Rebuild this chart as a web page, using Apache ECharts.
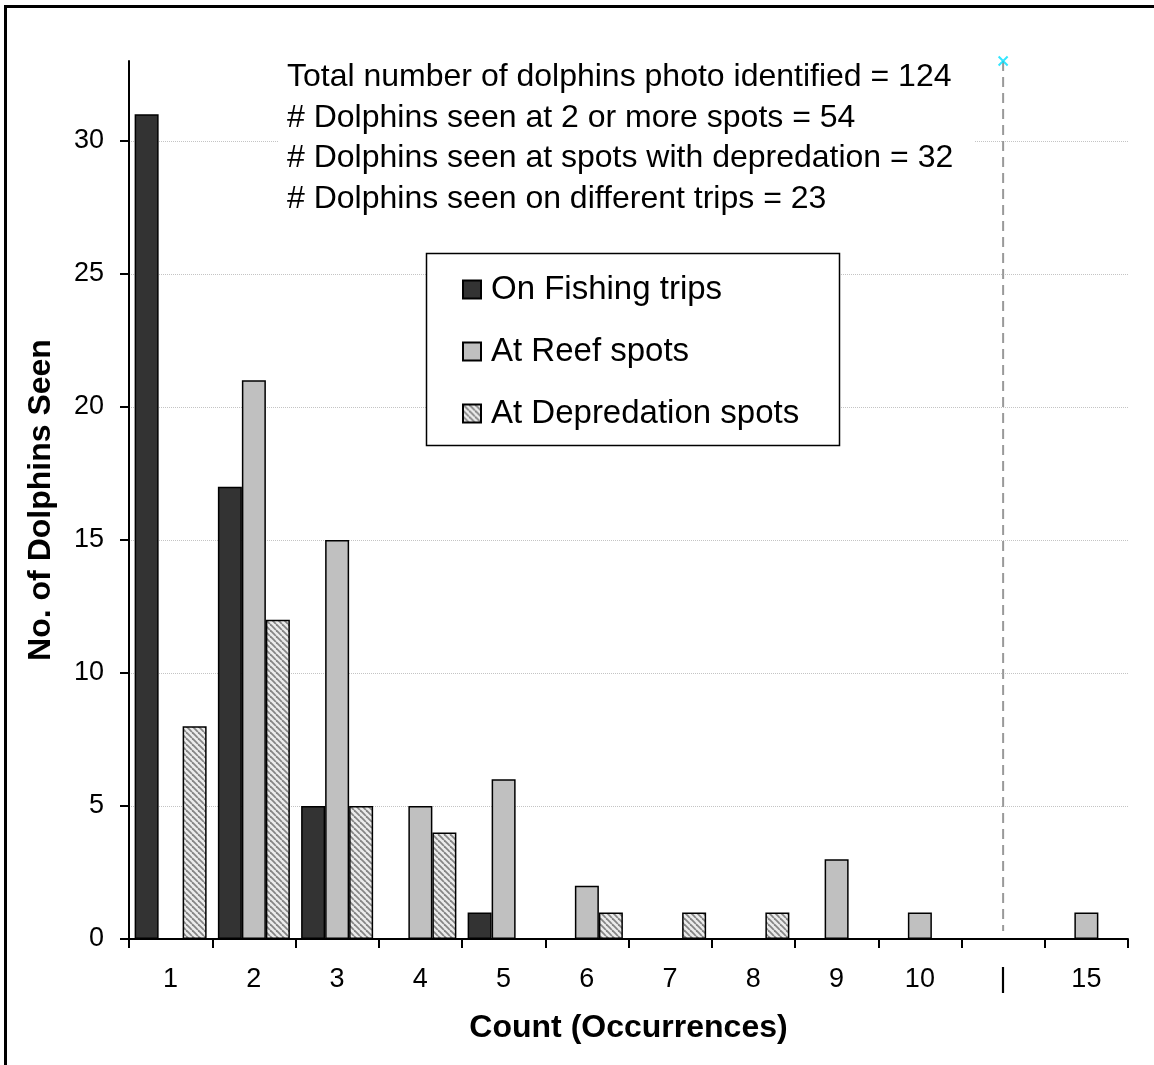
<!DOCTYPE html>
<html>
<head>
<meta charset="utf-8">
<script src="https://cdn.jsdelivr.net/npm/echarts@6/dist/echarts.min.js"></script>
<style>
  html, body { margin: 0; padding: 0; background: #fff; }
  #main { width: 1154px; height: 1065px; }
</style>
</head>
<body>
<div id="main"></div>
<script>
// categories on the x axis ('|' marks the axis break)
var categories = ['1', '2', '3', '4', '5', '6', '7', '8', '9', '10', '|', '15'];
var fishingTrips = [31, 17, 5, 0, 1, 0, 0, 0, 0, 0, 0, 0];
var reefSpots = [0, 21, 15, 5, 6, 2, 0, 0, 3, 1, 0, 1];
var depredationSpots = [8, 12, 5, 4, 0, 1, 1, 1, 0, 0, 0, 0];
var yTicks = [0, 5, 10, 15, 20, 25, 30];
var breakLine = [['|', 33], ['|', 0.3]];
var breakMarker = [['|', 33]];
var notes = [
  'Total number of dolphins photo identified = 124',
  '# Dolphins seen at 2 or more spots = 54',
  '# Dolphins seen at spots with depredation = 32',
  '# Dolphins seen on different trips = 23'
];

var FONT = '"Liberation Sans", Arial, sans-serif';

// hatch pattern for the depredation bars
function hatch() {
  var s = 6;
  var c = document.createElement('canvas');
  c.width = s; c.height = s;
  var g = c.getContext('2d');
  g.fillStyle = '#ececec';
  g.fillRect(0, 0, s, s);
  g.strokeStyle = '#858585';
  g.lineWidth = 1.8;
  [-s, 0, s].forEach(function (x0) {
    g.beginPath();
    g.moveTo(x0, 0);
    g.lineTo(x0 + s, s);
    g.stroke();
  });
  return { image: c, repeat: 'repeat' };
}

var chart = echarts.init(document.getElementById('main'));
var barBorder = { borderColor: '#000', borderWidth: 1.5 };

var option = {
  animation: false,
  backgroundColor: '#fff',
  textStyle: { fontFamily: FONT, color: '#000' },
  grid: { left: 129, right: 26, top: 61, bottom: 126 },
  xAxis: {
    type: 'category',
    data: categories,
    name: 'Count (Occurrences)',
    nameLocation: 'middle',
    nameGap: 73,
    nameTextStyle: { fontSize: 32, fontWeight: 'bold', color: '#000', fontFamily: FONT },
    axisLine: { lineStyle: { color: '#000', width: 2 } },
    axisTick: { show: true, length: 9, lineStyle: { color: '#000', width: 2 } },
    axisLabel: { fontSize: 27, color: '#000', margin: 27, fontFamily: FONT },
    splitLine: { show: false }
  },
  yAxis: {
    type: 'value',
    min: 0,
    max: 33,
    name: 'No. of Dolphins Seen',
    nameLocation: 'middle',
    nameGap: 72,
    nameTextStyle: { fontSize: 32, fontWeight: 'bold', color: '#000', fontFamily: FONT },
    axisLine: { show: true, lineStyle: { color: '#000', width: 2 } },
    axisTick: { show: true, length: 9, customValues: yTicks, lineStyle: { color: '#000', width: 2 } },
    axisLabel: { fontSize: 27, color: '#000', margin: 25, customValues: yTicks, fontFamily: FONT },
    splitLine: { show: true, lineStyle: { color: '#c4c4c4', type: 'dotted', width: 1 } }
  },
  legend: {
    data: ['On Fishing trips', 'At Reef spots', 'At Depredation spots'],
    orient: 'vertical',
    left: 462,
    top: 273,
    padding: 0,
    itemGap: 29,
    itemWidth: 18,
    itemHeight: 18,
    icon: 'rect',
    z: 10,
    textStyle: { fontSize: 33, color: '#000', padding: [0, 0, 0, 5], fontFamily: FONT }
  },
  graphic: [
    {
      type: 'rect', z: 5,
      shape: { x: 426.5, y: 253.5, width: 413, height: 192 },
      style: { fill: '#fff', stroke: '#000', lineWidth: 1.5 }
    },
    {
      type: 'rect', z: 5,
      shape: { x: 279, y: 56, width: 695, height: 164 },
      style: { fill: '#fff' }
    },
    {
      type: 'text', z: 6,
      x: 287, y: 57,
      style: {
        text: notes.join('\n'),
        font: '32px ' + FONT,
        fill: '#000',
        lineHeight: 40.6,
        verticalAlign: 'top'
      }
    },
    {
      type: 'rect', z: 20,
      shape: { x: 5.5, y: 6.5, width: 1300, height: 1300 },
      style: { fill: 'none', stroke: '#000', lineWidth: 3 }
    }
  ],
  series: [
    {
      name: 'On Fishing trips', type: 'bar', data: fishingTrips,
      barWidth: 24, barGap: '0%',
      itemStyle: Object.assign({ color: '#333333' }, barBorder)
    },
    {
      name: 'At Reef spots', type: 'bar', data: reefSpots,
      barWidth: 24, barGap: '0%',
      itemStyle: Object.assign({ color: '#c0c0c0' }, barBorder)
    },
    {
      name: 'At Depredation spots', type: 'bar', data: depredationSpots,
      barWidth: 24, barGap: '0%',
      itemStyle: Object.assign({ color: hatch() }, barBorder)
    },
    {
      name: 'break', type: 'line', data: breakLine,
      symbol: 'none', silent: true,
      lineStyle: { color: '#999', width: 2, type: [10, 6] }
    },
    {
      name: 'marker', type: 'scatter', data: breakMarker,
      symbol: 'path://M0,0L10,10M10,0L0,10', symbolSize: 9, silent: true, z: 8,
      itemStyle: { color: 'transparent', borderColor: '#00e0ff', borderWidth: 2 }
    }
  ]
};

chart.setOption(option);
</script>
</body>
</html>
